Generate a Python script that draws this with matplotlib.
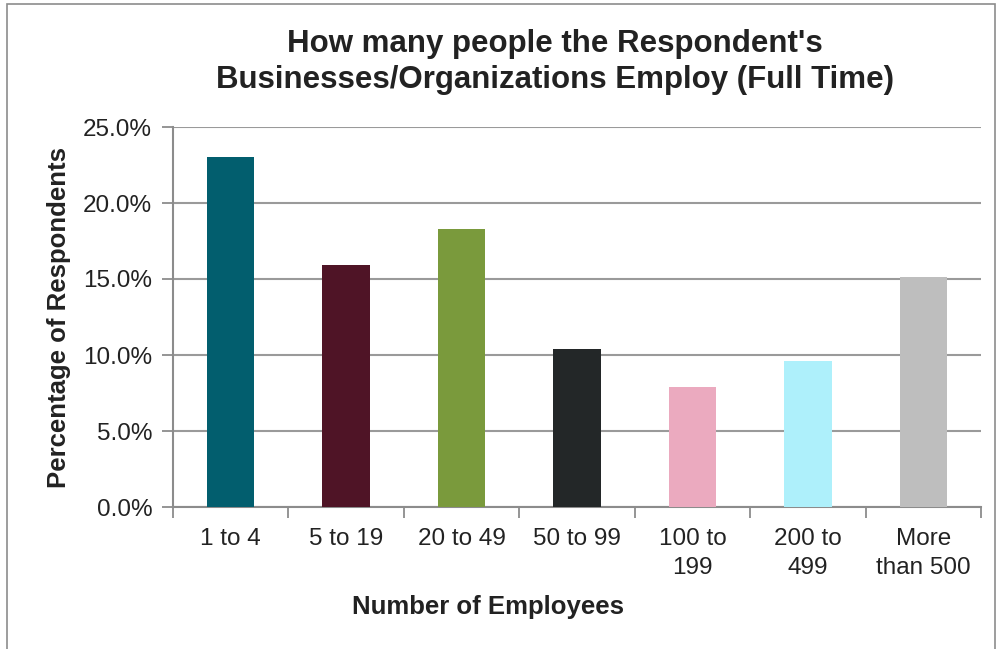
import numpy as np
import matplotlib; matplotlib.use("Agg"); import matplotlib.pyplot as plt
from matplotlib.patches import Rectangle

plt.rcParams['font.family'] = ['Liberation Sans', 'DejaVu Sans']

categories = ["1 to 4", "5 to 19", "20 to 49", "50 to 99", "100 to\n199", "200 to\n499", "More\nthan 500"]
values = [23.0, 15.9, 18.3, 10.4, 7.9, 9.6, 15.1]
colors = ["#025E6E", "#4F1426", "#7A9A3C", "#232728", "#EBAABF", "#AEF0FB", "#BEBEBE"]
yticks = [0, 5, 10, 15, 20, 25]

fig = plt.figure(figsize=(9.97, 6.49), dpi=100)
fig.patches.append(Rectangle((7/997, -0.01), (995-7)/997, 1-4/649+0.01, transform=fig.transFigure,
                             fill=False, edgecolor="#8c8c8c", lw=1.2))
ax = fig.add_axes([173/997, 1-507/649, (981-173)/997, (507-127)/649])

x = np.arange(len(categories))
ax.bar(x, values, width=0.41, color=colors, zorder=3)
ax.set_xlim(-0.5, len(categories)-0.5)
ax.set_ylim(0, 25)
ax.set_yticks(yticks)
ax.set_yticklabels([f"{v:.1f}%" for v in yticks], fontsize=17.5, color="#222222")
ax.yaxis.grid(True, color="#9a9a9a", lw=1.5, zorder=0)
ax.set_xticks(x)
ax.set_xticklabels(categories, fontsize=17.5, color="#222222", linespacing=1.4)
ax.tick_params(axis="x", which="major", length=0, pad=15)
ax.set_xticks(np.arange(len(categories)+1)-0.5, minor=True)
ax.tick_params(axis="x", which="minor", length=8, color="#8c8c8c", width=1.3)
ax.tick_params(axis="y", length=8, color="#8c8c8c", width=1.3, pad=7)
for s in ["top", "right"]:
    ax.spines[s].set_visible(False)
for s in ["left", "bottom"]:
    ax.spines[s].set_color("#8c8c8c"); ax.spines[s].set_linewidth(1.5)

ax.set_xlabel("Number of Employees", fontsize=18.5, fontweight="bold", color="#222222")
ax.xaxis.set_label_coords((488-173)/(981-173), -0.232)
ax.set_ylabel("Percentage of Respondents", fontsize=18.5, fontweight="bold", color="#222222", labelpad=9)
fig.suptitle("How many people the Respondent's\nBusinesses/Organizations Employ (Full Time)",
             x=555/997, fontsize=22.5, fontweight="bold", color="#222222", y=0.955, linespacing=1.25)

fig.savefig("out.png", dpi=100)
